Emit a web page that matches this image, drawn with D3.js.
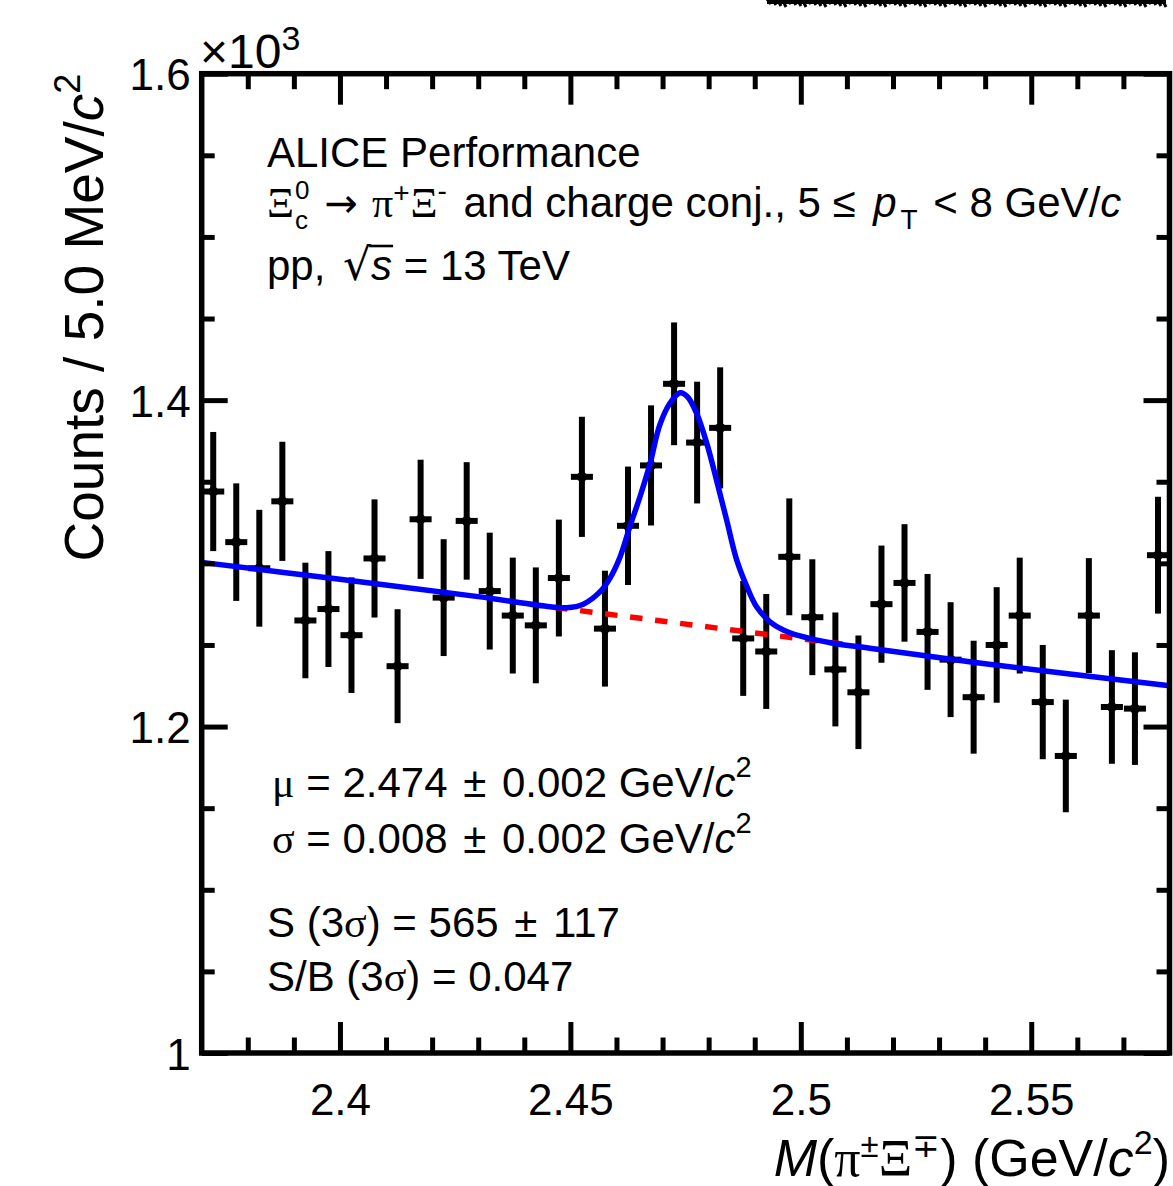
<!DOCTYPE html>
<html><head><meta charset="utf-8">
<script src="https://cdn.jsdelivr.net/npm/d3@7"></script>
<style>
html,body{margin:0;padding:0;background:#fff;}
svg{display:block;}
text{white-space:pre;}
</style></head><body>
<svg id="chart" width="1173" height="1186"></svg>
<script>
// ---------------- data ----------------
const binCenters = [2.3725, 2.3775, 2.3825, 2.3875, 2.3925, 2.3975, 2.4025, 2.4075, 2.4125, 2.4175,
  2.4225, 2.4275, 2.4325, 2.4375, 2.4425, 2.4475, 2.4525, 2.4575, 2.4625, 2.4675,
  2.4725, 2.4775, 2.4825, 2.4875, 2.4925, 2.4975, 2.5025, 2.5075, 2.5125, 2.5175,
  2.5225, 2.5275, 2.5325, 2.5375, 2.5425, 2.5475, 2.5525, 2.5575, 2.5625, 2.5675,
  2.5725, 2.5775];
const counts = [1344, 1313, 1297, 1338, 1265, 1272, 1256, 1303, 1237, 1327,
  1279, 1326, 1283, 1268, 1262, 1291, 1353, 1260, 1323, 1360,
  1410, 1374, 1383, 1254, 1246, 1304, 1267, 1235, 1221, 1275,
  1288, 1258, 1241, 1218, 1250, 1268, 1215, 1182, 1268, 1212,
  1211, 1305];
const countErr = [36.5, 36.0, 35.8, 36.5, 35.4, 35.5, 35.4, 36.2, 34.9, 36.5,
  35.8, 36.0, 35.8, 35.5, 35.5, 35.8, 36.8, 35.5, 36.3, 36.8,
  37.6, 37.3, 37.1, 35.2, 35.2, 35.8, 35.5, 34.9, 34.8, 35.9,
  36.0, 35.5, 35.2, 34.6, 35.4, 35.5, 35.0, 34.5, 35.2, 34.8,
  34.5, 35.8];
const binHalfWidth = 0.0025;

// total fit (signal + background)
const fitMass = [2.3700, 2.4000, 2.4300, 2.4456, 2.4492, 2.4528, 2.4564, 2.4586, 2.4608, 2.4629, 2.4651,
  2.4673, 2.4694, 2.4716, 2.4738, 2.4754, 2.4774, 2.4796, 2.4817, 2.4839, 2.4861,
  2.4883, 2.4904, 2.4933, 2.4962, 2.4998, 2.5070, 2.5150, 2.5400, 2.5800];
const fitCounts = [1300.6, 1290.2, 1279.6, 1273.4, 1272.8, 1275.0, 1282.5, 1291.0, 1304.1, 1322.5, 1340.8,
  1361.3, 1384.8, 1398.1, 1404.5, 1402.1, 1391.9, 1373.5, 1351.1, 1326.6, 1302.0,
  1285.7, 1273.4, 1264.2, 1259.2, 1255.5, 1251.0, 1248.0, 1238.5, 1225.0];
// background fit (visible part, dashed)
const bgMass = [2.4450, 2.5100];
const bgCounts = [1273.6, 1250.2];

const xDomain = [2.37, 2.58];
const yDomain = [1000, 1600];
const xMajorTicks = [2.40, 2.45, 2.50, 2.55];
const xTickLabels = ["2.4", "2.45", "2.5", "2.55"];
const xMinorTicks = [2.38, 2.39, 2.41, 2.42, 2.43, 2.44, 2.46, 2.47, 2.48, 2.49, 2.51, 2.52, 2.53, 2.54, 2.56, 2.57];
const yMajorTicks = [1000, 1200, 1400, 1600];
const yTickLabels = ["1", "1.2", "1.4", "1.6"];
const yMinorTicks = [1050, 1100, 1150, 1250, 1300, 1350, 1450, 1500, 1550];

// ---------------- drawing ----------------
const W = 1173, H = 1186;
const SANS = "'Liberation Sans', Arial, Helvetica, sans-serif";
const SERIF = "'Liberation Serif', 'Times New Roman', serif";
const DJV = "'DejaVu Sans', sans-serif";
const svg = d3.select('#chart');
svg.append('rect').attr('width', W).attr('height', H).attr('fill', '#fff');

const xL = 201.7, xR = 1169.5, yB = 1053, yT = 73.7;
const x = d3.scaleLinear().domain(xDomain).range([xL, xR]);
const y = d3.scaleLinear().domain(yDomain).range([yB, yT]);

svg.append('clipPath').attr('id', 'clip').append('rect')
  .attr('x', xL).attr('y', yT).attr('width', xR - xL).attr('height', yB - yT);

// data points
const pts = binCenters.map((m, i) => ({ m, c: counts[i], e: countErr[i] }));
const gD = svg.append('g');
gD.selectAll('line.v').data(pts).join('line').attr('class', 'v')
  .attr('x1', d => x(d.m)).attr('x2', d => x(d.m))
  .attr('y1', d => y(d.c - d.e)).attr('y2', d => y(d.c + d.e))
  .attr('stroke', '#000').attr('stroke-width', 6);
gD.selectAll('line.h').data(pts).join('line').attr('class', 'h')
  .attr('x1', d => x(d.m - binHalfWidth) + 0.5).attr('x2', d => x(d.m + binHalfWidth) - 0.5)
  .attr('y1', d => y(d.c)).attr('y2', d => y(d.c))
  .attr('stroke', '#000').attr('stroke-width', 6);
gD.selectAll('circle').data(pts).join('circle')
  .attr('cx', d => x(d.m)).attr('cy', d => y(d.c)).attr('r', 5).attr('fill', '#000');

// background (red dashed)
const bgLine = d3.line().x((d, i) => x(bgMass[i])).y(d => y(d));
svg.append('path').attr('d', bgLine(bgCounts)).attr('clip-path', 'url(#clip)')
  .attr('fill', 'none').attr('stroke', '#ff0000').attr('stroke-width', 5.5)
  .attr('stroke-dasharray', '12.5 12.7').attr('stroke-dashoffset', 17.4);

// total fit (blue)
const fitLine = d3.line().x((d, i) => x(fitMass[i])).y(d => y(d)).curve(d3.curveCatmullRom.alpha(0.5));
svg.append('path').attr('d', fitLine(fitCounts)).attr('clip-path', 'url(#clip)')
  .attr('fill', 'none').attr('stroke', '#0000ff').attr('stroke-width', 5.5)
  .attr('stroke-linejoin', 'round');

// axes
function styleTicks(g) {
  g.select('.domain').remove();
  g.selectAll('.tick line').attr('stroke', '#000').attr('stroke-width', 5);
}
const none = () => '';
svg.append('g').attr('transform', `translate(0,${yB})`)
  .call(d3.axisBottom(x).tickValues(xMinorTicks).tickSize(-15.5).tickFormat(none)).call(styleTicks);
svg.append('g').attr('transform', `translate(0,${yT})`)
  .call(d3.axisTop(x).tickValues(xMinorTicks).tickSize(-15.5).tickFormat(none)).call(styleTicks);
svg.append('g').attr('transform', `translate(0,${yT})`)
  .call(d3.axisTop(x).tickValues(xMajorTicks).tickSize(-31).tickFormat(none)).call(styleTicks);
const gxB = svg.append('g').attr('transform', `translate(0,${yB})`)
  .call(d3.axisBottom(x).tickValues(xMajorTicks).tickSize(-31).tickFormat((d, i) => xTickLabels[i])).call(styleTicks);
gxB.selectAll('text').attr('y', 62).attr('dy', 0).attr('fill', '#000')
  .style('font-family', SANS).style('font-size', '44px');

svg.append('g').attr('transform', `translate(${xL},0)`)
  .call(d3.axisLeft(y).tickValues(yMinorTicks).tickSize(-13).tickFormat(none)).call(styleTicks);
svg.append('g').attr('transform', `translate(${xR},0)`)
  .call(d3.axisRight(y).tickValues(yMinorTicks).tickSize(-13).tickFormat(none)).call(styleTicks);
svg.append('g').attr('transform', `translate(${xR},0)`)
  .call(d3.axisRight(y).tickValues(yMajorTicks).tickSize(-26).tickFormat(none)).call(styleTicks);
const gyL = svg.append('g').attr('transform', `translate(${xL},0)`)
  .call(d3.axisLeft(y).tickValues(yMajorTicks).tickSize(-26).tickFormat((d, i) => yTickLabels[i])).call(styleTicks);
gyL.selectAll('text').attr('x', -11).attr('y', 16).attr('dy', 0).attr('fill', '#000')
  .style('font-family', SANS).style('font-size', '44px');

// frame
svg.append('rect').attr('x', xL).attr('y', yT).attr('width', xR - xL).attr('height', yB - yT)
  .attr('fill', 'none').attr('stroke', '#000').attr('stroke-width', 5.5);

// ---------------- rich text helper ----------------
function addT(g, tx, ty, str, p) {
  return g.append('text').attr('x', tx).attr('y', ty).attr('xml:space', 'preserve').text(str)
    .attr('fill', '#000')
    .style('font-family', p.font ? p.font : (p.serif ? SERIF : SANS))
    .style('font-size', (p.size || 42) + 'px')
    .style('font-style', p.italic ? 'italic' : 'normal');
}
function rich(parent, x0, yb, parts, anchor) {
  const g = parent.append('g');
  let cx = x0;
  parts.forEach(p => {
    if (p.gap !== undefined) { cx += p.gap; return; }
    if (p.stack) {
      const a = addT(g, cx, yb - p.supRise, p.sup, p);
      const b = addT(g, cx, yb + p.subDrop, p.sub, p);
      cx += Math.max(a.node().getComputedTextLength(), b.node().getComputedTextLength());
      return;
    }
    const t = addT(g, cx, yb - (p.rise || 0), p.t, p);
    const w = t.node().getComputedTextLength();
    if (p.overline) {
      g.append('line').attr('x1', cx - 2).attr('x2', cx + w + 1)
        .attr('y1', yb - p.overline).attr('y2', yb - p.overline)
        .attr('stroke', '#000').attr('stroke-width', 2.6);
    }
    cx += w;
  });
  if (anchor === 'end') g.attr('transform', `translate(${x0 - cx},0)`);
  return g;
}

// x10^3
rich(svg, 200, 68, [{ t: '×10', size: 48 }, { t: '3', size: 34, rise: 18 }]);

// header text
rich(svg, 267, 167, [{ t: 'ALICE Performance' }]);
rich(svg, 267, 217, [
  { t: 'Ξ', serif: true },
  { gap: 1 },
  { stack: true, sup: '0', sub: 'c', size: 26, supRise: 18, subDrop: 12 },
  { gap: 15 },
  { t: '→', font: DJV, size: 40 },
  { gap: 14 },
  { t: 'π', serif: true },
  { t: '+', size: 28, rise: 15 },
  { gap: 1 },
  { t: 'Ξ', serif: true },
  { t: '-', size: 28, rise: 17 },
  { gap: 5 },
  { t: ' and charge conj., 5 ≤ ' },
  { gap: 6 },
  { t: 'p', italic: true },
  { gap: 4 },
  { t: 'T', size: 28, rise: -12 },
  { gap: 4 },
  { t: ' < 8 GeV/' },
  { t: 'c', italic: true }
]);
rich(svg, 267, 280, [
  { t: 'pp, ' },
  { gap: 6 },
  { t: '√', font: DJV, size: 44 },
  { t: 's', italic: true, overline: 34 },
  { t: ' = 13 TeV' }
]);

// fit results
const PM = [{ gap: 4 }, { t: ' ± ' }, { gap: 4 }];
rich(svg, 272, 797, [
  { t: 'μ', serif: true },
  { t: ' = 2.474' }, ...PM, { t: '0.002 GeV/' },
  { t: 'c', italic: true },
  { t: '2', size: 29, rise: 20 }
]);
rich(svg, 272, 853, [
  { t: 'σ', serif: true },
  { t: ' = 0.008' }, ...PM, { t: '0.002 GeV/' },
  { t: 'c', italic: true },
  { t: '2', size: 29, rise: 20 }
]);
rich(svg, 267, 937, [{ t: 'S (3' }, { t: 'σ', serif: true }, { t: ') = 565' }, ...PM, { t: '117' }]);
rich(svg, 267, 991, [{ t: 'S/B (3' }, { t: 'σ', serif: true }, { t: ') = 0.047' }]);

// x-axis title
rich(svg, 1170, 1176, [
  { t: 'M', italic: true, size: 52 },
  { t: '(', size: 52 },
  { t: 'π', serif: true, size: 52 },
  { t: '±', size: 33, rise: 19 },
  { t: 'Ξ', serif: true, size: 52 },
  { t: '∓', size: 33, rise: 19 },
  { t: ') (GeV/', size: 52 },
  { t: 'c', italic: true, size: 52 },
  { t: '2', size: 34, rise: 22 },
  { t: ')', size: 52 }
], 'end');

// y-axis title (rotated)
const gyt = svg.append('g').attr('transform', `translate(102.5,${yT}) rotate(-90)`);
rich(gyt, 0, 0, [
  { t: 'Counts / 5.0 MeV/', size: 55 },
  { t: 'c', italic: true, size: 55 },
  { t: '2', size: 36, rise: 23 }
], 'end');

// clipped scribble at the very top (remnant of cropped content)
const sp = d3.path();
for (let i = 0; i < 80; i++) {
  const sx = 767 + i * 5;
  sp.moveTo(sx, -1);
  sp.lineTo(sx + 4, 4 + ((i * 37) % 4));
}
svg.append('path').attr('d', sp.toString()).attr('stroke', '#000').attr('stroke-width', 3).attr('fill', 'none');
svg.append('rect').attr('x', 767).attr('y', 0).attr('width', 399).attr('height', 4).attr('fill', '#000');
</script>
</body></html>
